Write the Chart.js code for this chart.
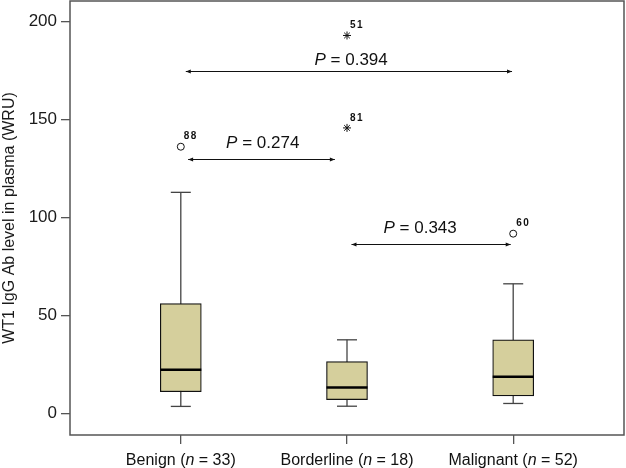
<!DOCTYPE html>
<html>
<head>
<meta charset="utf-8">
<script src="https://cdn.jsdelivr.net/npm/chart.js@4.4.0/dist/chart.umd.min.js"></script>
<style>
  html, body { margin: 0; padding: 0; background: #fff; }
</style>
</head>
<body>
<canvas id="chart" width="626" height="468"></canvas>
<script>
// groups and box statistics (WRU)
const groups = ["Benign", "Borderline", "Malignant"];
const groupN = [33, 18, 52];
const whiskerLow = [3.6, 3.7, 5.1];
const q1 = [11.1, 7.1, 9.0];
const median = [22.3, 13.3, 18.7];
const q3 = [56.1, 26.5, 37.6];
const whiskerHigh = [112.9, 37.6, 66.2];

// outliers (o) and extremes (*)
const outlierGroup = [1, 2, 2, 3];
const outlierValue = [136.2, 145.8, 193.0, 91.8];
const outlierId = ["88", "81", "51", "60"];
const outlierKind = ["circle", "star", "star", "circle"];

// P-value comparisons
const pFrom = [1.03, 1.044, 2.027];
const pTo = [2.993, 1.927, 2.985];
const pLineY = [175, 130, 86.6];
const pTextX = [2.025, 1.493, 2.44];
const pTextY = [178, 135.7, 92.3];
const pValue = ["0.394", "0.274", "0.343"];

const yTicks = [0, 50, 100, 150, 200];
const xTicks = [1, 2, 3];

const FONT = '"Liberation Sans", Arial, sans-serif';

function drawRich(ctx, parts, cx, baseline, size) {
    // parts: [text, italic]
    let widths = parts.map(p => {
        ctx.font = (p[1] ? 'italic ' : '') + size + 'px ' + FONT;
        return ctx.measureText(p[0]).width;
    });
    let total = widths.reduce((a, b) => a + b, 0);
    let xx = cx - total / 2;
    ctx.textAlign = 'left';
    ctx.textBaseline = 'alphabetic';
    parts.forEach((p, i) => {
        ctx.font = (p[1] ? 'italic ' : '') + size + 'px ' + FONT;
        ctx.fillText(p[0], xx, baseline);
        xx += widths[i];
    });
}

function noPadding(s) {
    s.paddingTop = 0; s.paddingBottom = 0;
    s.paddingLeft = 0; s.paddingRight = 0;
}

const extras = {
    id: 'extras',
    afterDraw(chart) {
        const ctx = chart.ctx;
        const a = chart.chartArea;
        const x = chart.scales.x, y = chart.scales.y;
        ctx.save();

        // frame round the plot
        ctx.strokeStyle = '#555';
        ctx.lineWidth = 1.5;
        ctx.strokeRect(a.left, a.top, a.right - a.left, a.bottom - a.top);

        // case numbers next to outliers
        ctx.fillStyle = '#111';
        ctx.font = 'bold 10px ' + FONT;
        ctx.letterSpacing = '1.5px';
        ctx.textAlign = 'left';
        ctx.textBaseline = 'middle';
        outlierId.forEach((id, i) => {
            ctx.fillText(id, x.getPixelForValue(outlierGroup[i]) + 3, y.getPixelForValue(outlierValue[i]) - 10);
        });
        ctx.letterSpacing = '0px';

        // comparison arrows
        ctx.strokeStyle = '#111';
        ctx.lineWidth = 1;
        pValue.forEach((p, i) => {
            const x0 = x.getPixelForValue(pFrom[i]);
            const x1 = x.getPixelForValue(pTo[i]);
            const yy = Math.round(y.getPixelForValue(pLineY[i])) + 0.5;
            ctx.beginPath();
            ctx.moveTo(x0, yy);
            ctx.lineTo(x1, yy);
            ctx.stroke();
            ctx.beginPath();
            ctx.moveTo(x0, yy); ctx.lineTo(x0 + 5, yy - 2); ctx.lineTo(x0 + 5, yy + 2); ctx.closePath();
            ctx.moveTo(x1, yy); ctx.lineTo(x1 - 5, yy - 2); ctx.lineTo(x1 - 5, yy + 2); ctx.closePath();
            ctx.fill();
            drawRich(ctx, [["P", true], [" = " + p, false]],
                x.getPixelForValue(pTextX[i]), y.getPixelForValue(pTextY[i]), 17);
        });

        // category labels
        groups.forEach((g, i) => {
            drawRich(ctx, [[g + " (", false], ["n", true], [" = " + groupN[i] + ")", false]],
                x.getPixelForValue(xTicks[i]), 465, 16);
        });
        ctx.restore();
    }
};

const whiskerSets = groups.map((g, i) => ({
    type: 'line',
    data: [{x: i + 1, y: whiskerLow[i]}, {x: i + 1, y: whiskerHigh[i]}],
    borderColor: '#444',
    borderWidth: 1.3,
    pointRadius: 0,
    order: 4
}));

const data = {
    datasets: [
        {
            type: 'scatter',
            label: 'median',
            data: groups.map((g, i) => ({x: i + 1, y: median[i]})),
            pointStyle: 'line',
            pointRadius: 20.5,
            borderColor: '#000',
            borderWidth: 2.5,
            order: 0
        },
        {
            type: 'scatter',
            label: 'outliers',
            data: outlierValue.map((v, i) => ({x: outlierGroup[i], y: v})),
            pointStyle: outlierKind,
            pointRadius: outlierKind.map(k => k === 'circle' ? 3.5 : 4),
            backgroundColor: '#fff',
            borderColor: '#111',
            borderWidth: 1,
            order: 1
        },
        {
            type: 'bar',
            label: 'box',
            data: groups.map((g, i) => ({x: i + 1, y: [q1[i], q3[i]]})),
            backgroundColor: '#d5cf9c',
            borderColor: '#111',
            borderWidth: 1.2,
            borderSkipped: false,
            barThickness: 41,
            order: 2
        },
        {
            type: 'scatter',
            label: 'caps',
            data: groups.map((g, i) => ({x: i + 1, y: whiskerLow[i]}))
                .concat(groups.map((g, i) => ({x: i + 1, y: whiskerHigh[i]}))),
            pointStyle: 'line',
            pointRadius: 10,
            borderColor: '#444',
            borderWidth: 1.3,
            order: 3
        }
    ].concat(whiskerSets)
};

new Chart(document.getElementById('chart'), {
    type: 'bar',
    data: data,
    plugins: [extras],
    options: {
        responsive: false,
        animation: false,
        layout: { autoPadding: false, padding: { top: 1, right: 2, left: 0, bottom: 0 } },
        plugins: {
            legend: { display: false },
            tooltip: { enabled: false }
        },
        scales: {
            x: {
                type: 'linear',
                min: 1 / 3,
                max: 11 / 3,
                offset: false,
                afterFit: s => { s.height = 33; noPadding(s); },
                afterBuildTicks: s => { s.ticks = xTicks.map(v => ({value: v})); },
                grid: { offset: false, drawOnChartArea: false, drawTicks: true, tickLength: 9, color: '#555', lineWidth: 1.3 },
                border: { display: false },
                ticks: { display: false }
            },
            y: {
                type: 'linear',
                min: -11,
                max: 210.6,
                afterFit: s => { s.width = 70; noPadding(s); },
                afterBuildTicks: s => { s.ticks = yTicks.map(v => ({value: v})); },
                grid: { drawOnChartArea: false, drawTicks: true, tickLength: 9, color: '#555', lineWidth: 1.3 },
                border: { display: false },
                ticks: {
                    color: '#1a1a1a',
                    padding: 4,
                    font: { family: FONT, size: 17 }
                },
                title: {
                    display: true,
                    text: 'WT1 IgG Ab level in plasma (WRU)',
                    color: '#1a1a1a',
                    padding: 0,
                    font: { family: FONT, size: 16 }
                }
            }
        }
    }
});
</script>
</body>
</html>
